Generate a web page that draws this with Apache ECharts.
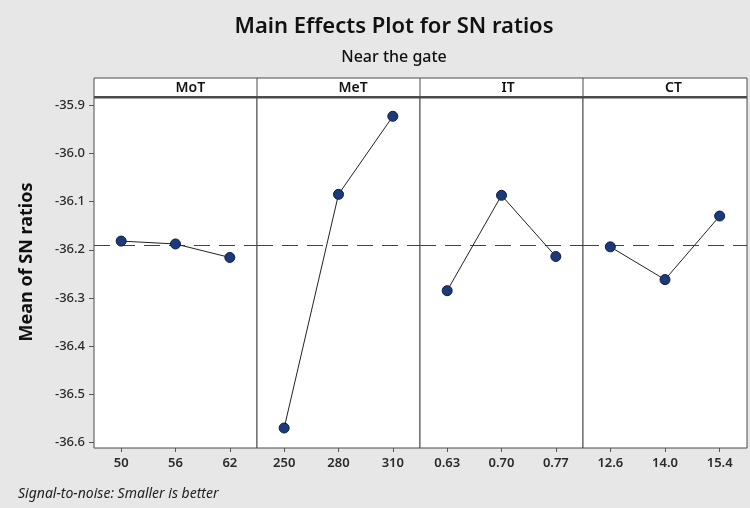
<!DOCTYPE html>
<html>
<head>
<meta charset="utf-8">
<script src="https://cdn.jsdelivr.net/npm/echarts@6/dist/echarts.min.js"></script>
<style>html,body{margin:0;padding:0;background:#e6e7e6;}#c{width:750px;height:508px;}</style>
</head>
<body>
<div id="c"></div>
<script>
const factors = ['MoT', 'MeT', 'IT', 'CT'];
const levelsMoT = ['50', '56', '62'];
const levelsMeT = ['250', '280', '310'];
const levelsIT = ['0.63', '0.70', '0.77'];
const levelsCT = ['12.6', '14.0', '15.4'];
const valuesMoT = [-36.182, -36.188, -36.216];
const valuesMeT = [-36.570, -36.085, -35.923];
const valuesIT = [-36.285, -36.087, -36.214];
const valuesCT = [-36.194, -36.262, -36.130];
const yMin = -36.6115, yMax = -35.885;

(function () {
const levels = [levelsMoT, levelsMeT, levelsIT, levelsCT];
const values = [valuesMoT, valuesMeT, valuesIT, valuesCT];
const all = [].concat(valuesMoT, valuesMeT, valuesIT, valuesCT);
const grandMean = all.reduce((a, b) => a + b, 0) / all.length;

const panelLefts = [94, 257, 420, 583];
const panelWidths = [163, 163, 163, 164];
const plotTop = 98, plotBottom = 448, headerTop = 78;
const frameColor = '#4a4a4a';
const font = 'Noto Sans';

const grids = [], xAxes = [], yAxes = [], series = [], graphics = [];
for (let i = 0; i < 4; i++) {
  grids.push({left: panelLefts[i], top: plotTop, width: panelWidths[i], height: plotBottom - plotTop,
    show: true, borderColor: frameColor, borderWidth: 1, backgroundColor: '#ffffff'});
  xAxes.push({type: 'category', gridIndex: i, data: levels[i], boundaryGap: true,
    axisLine: {show: false},
    axisTick: {show: true, alignWithLabel: true, length: 4, lineStyle: {color: '#555'}},
    axisLabel: {color: '#2a2a2a', fontFamily: font, fontSize: 13, fontWeight: 600, margin: 9},
    splitLine: {show: false}});
  yAxes.push({type: 'value', gridIndex: i, min: yMin, max: yMax, splitNumber: 7,
    axisLine: {show: false},
    axisTick: {show: i === 0, length: 5, lineStyle: {color: '#555'}},
    axisLabel: {show: i === 0, color: '#2a2a2a', fontFamily: font, fontSize: 13, fontWeight: 500, margin: 9,
      showMinLabel: false, showMaxLabel: false,
      formatter: v => Math.abs(v * 10 - Math.round(v * 10)) < 1e-6 ? v.toFixed(1) : ''},
    splitLine: {show: false},
    name: i === 0 ? 'Mean of SN ratios' : '', nameLocation: 'middle', nameGap: 58,
    nameTextStyle: {color: '#111', fontFamily: font, fontSize: 18, fontWeight: 'bold', padding: [0, 0, 0, 22]}});
  series.push({type: 'line', xAxisIndex: i, yAxisIndex: i, data: values[i],
    symbol: 'circle', symbolSize: 10,
    itemStyle: {color: '#1c3a7a', borderColor: '#0c1d44', borderWidth: 1},
    lineStyle: {color: '#222', width: 1}, z: 3,
    markLine: {silent: true, symbol: 'none', label: {show: false},
      lineStyle: {color: '#444', type: [16, 9], width: 1.2},
      data: [{yAxis: grandMean}], z: 2}});
  graphics.push({type: 'text', left: panelLefts[i] + panelWidths[i] / 2, top: headerTop + 3,
    style: {text: factors[i], fill: '#111', font: '600 14px "Noto Sans"', textAlign: 'center'}});
  if (i > 0) graphics.push({type: 'line', shape: {x1: panelLefts[i], y1: headerTop, x2: panelLefts[i], y2: plotTop},
    style: {stroke: frameColor, lineWidth: 1}});
}
graphics.unshift({type: 'rect', shape: {x: 94, y: headerTop, width: 653, height: plotTop - headerTop},
  style: {fill: '#fff', stroke: frameColor, lineWidth: 1}, z: -1});
graphics.push({type: 'line', shape: {x1: 94, y1: plotTop - 1, x2: 747, y2: plotTop - 1},
  style: {stroke: frameColor, lineWidth: 2}});
graphics.push({type: 'text', left: 18, top: 487,
  style: {text: 'Signal-to-noise: Smaller is better', fill: '#222', font: 'italic 14px "Noto Sans"'}});

const chart = echarts.init(document.getElementById('c'));
chart.setOption({
  backgroundColor: '#e6e7e6',
  animation: false,
  title: {text: 'Main Effects Plot for SN ratios', subtext: 'Near the gate',
    left: 389, top: 11, textAlign: 'center', itemGap: 11,
    textStyle: {color: '#111', fontFamily: font, fontSize: 22, fontWeight: 600},
    subtextStyle: {color: '#111', fontFamily: font, fontSize: 16, fontWeight: 500}},
  grid: grids, xAxis: xAxes, yAxis: yAxes, series: series,
  graphic: graphics
});
})();
</script>
</body>
</html>
